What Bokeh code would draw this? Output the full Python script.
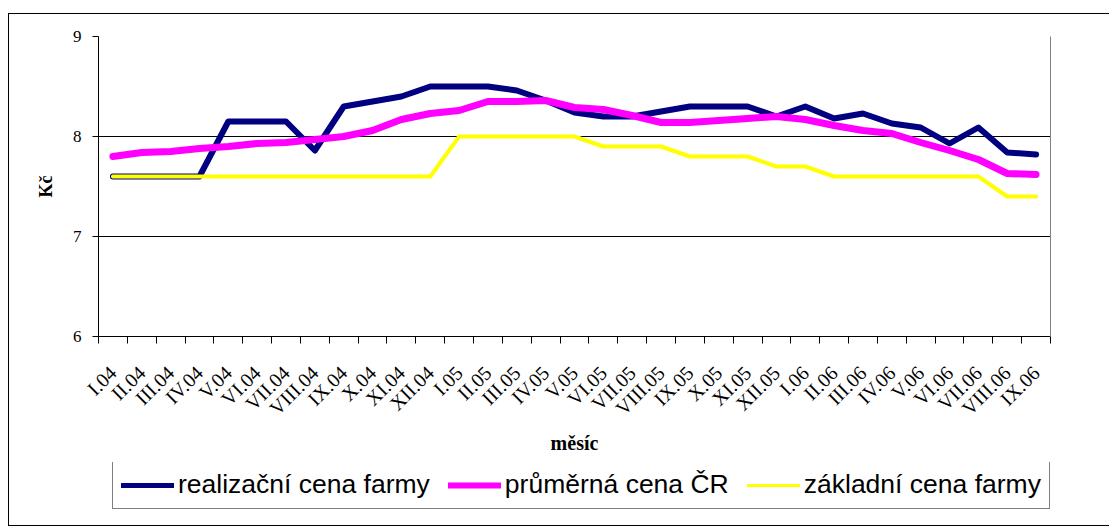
import math
from bokeh.plotting import figure
from bokeh.layouts import column
from bokeh.models import (FixedTicker, Range1d, Legend, LegendItem, LinearAxis,
                          ColumnDataSource)
from bokeh.embed import file_html
from bokeh.resources import INLINE

months = ["I.04", "II.04", "III.04", "IV.04", "V.04", "VI.04", "VII.04", "VIII.04",
          "IX.04", "X.04", "XI.04", "XII.04",
          "I.05", "II.05", "III.05", "IV.05", "V.05", "VI.05", "VII.05", "VIII.05",
          "IX.05", "X.05", "XI.05", "XII.05",
          "I.06", "II.06", "III.06", "IV.06", "V.06", "VI.06", "VII.06", "VIII.06", "IX.06"]

realizacni = [7.60, 7.60, 7.60, 7.60, 8.15, 8.15, 8.15, 7.86, 8.30, 8.35, 8.40, 8.50,
              8.50, 8.50, 8.46, 8.36, 8.24, 8.20, 8.20, 8.25, 8.30, 8.30, 8.30, 8.20,
              8.30, 8.18, 8.23, 8.13, 8.09, 7.93, 8.09, 7.84, 7.82]

prumerna = [7.80, 7.84, 7.85, 7.88, 7.90, 7.93, 7.94, 7.97, 8.00, 8.06, 8.17, 8.23,
            8.26, 8.35, 8.35, 8.36, 8.29, 8.27, 8.21, 8.14, 8.14, 8.16, 8.18, 8.20,
            8.17, 8.11, 8.06, 8.03, 7.94, 7.86, 7.77, 7.63, 7.62]

zakladni = [7.6, 7.6, 7.6, 7.6, 7.6, 7.6, 7.6, 7.6, 7.6, 7.6, 7.6, 7.6,
            8.0, 8.0, 8.0, 8.0, 8.0, 7.9, 7.9, 7.9, 7.8, 7.8, 7.8, 7.7,
            7.7, 7.6, 7.6, 7.6, 7.6, 7.6, 7.6, 7.4, 7.4]

series_names = ["realizační cena farmy", "průměrná cena ČR", "základní cena farmy"]
series_colors = ["#000080", "#FF00FF", "#FFFF00"]
y_ticks = [6, 7, 8, 9]

idx = list(range(len(months)))
src = ColumnDataSource(dict(x=idx, r=realizacni, p=prumerna, z=zakladni))

frame_styles = {
    "background-image": "linear-gradient(#000,#000),linear-gradient(#000,#000),linear-gradient(#000,#000)",
    "background-size": "1px 100%, 100% 1px, 100% 1px",
    "background-position": "8px 13px, 8px 13px, 8px 100%",
    "background-repeat": "no-repeat",
}

TOP_H = 462
p = figure(width=1109, height=TOP_H, output_backend="svg", toolbar_location=None,
           x_range=Range1d(-0.5, len(months) - 0.5), y_range=Range1d(6, 9),
           min_border_left=98, min_border_top=36, min_border_right=59,
           min_border_bottom=TOP_H - 336,
           border_fill_color=None, background_fill_color="white",
           outline_line_color=None)

serif = "Liberation Serif"

# x axis: labels at category centres, tick marks at category boundaries
xa = p.xaxis[0]
xa.ticker = FixedTicker(ticks=idx, minor_ticks=[i - 0.5 for i in range(len(months) + 1)])
xa.major_label_overrides = {i: m for i, m in enumerate(months)}
xa.major_label_orientation = math.pi / 4
xa.major_tick_out = 0
xa.major_tick_in = 0
xa.minor_tick_out = 7
xa.minor_tick_in = 0
xa.minor_tick_line_color = "black"
xa.axis_line_color = "black"
xa.major_label_text_font = serif
xa.major_label_text_font_size = "20px"
xa.major_label_text_color = "black"
xa.major_label_standoff = 26
xa.axis_label = "měsíc"
xa.axis_label_text_font = serif
xa.axis_label_text_font_style = "bold"
xa.axis_label_text_font_size = "20px"
xa.axis_label_text_color = "black"
xa.axis_label_standoff = 2

# y axis
ya = p.yaxis[0]
ya.ticker = FixedTicker(ticks=y_ticks, minor_ticks=[])
ya.major_tick_out = 6
ya.major_tick_in = 0
ya.major_tick_line_color = "black"
ya.axis_line_color = "black"
ya.major_label_text_font = serif
ya.major_label_text_font_size = "17px"
ya.major_label_text_color = "black"
ya.major_label_standoff = 11
ya.axis_label = "Kč"
ya.axis_label_text_font = serif
ya.axis_label_text_font_style = "bold"
ya.axis_label_text_font_size = "18px"
ya.axis_label_text_color = "black"
ya.axis_label_standoff = 14

# right border of plot area
ra = LinearAxis(ticker=FixedTicker(ticks=[]), axis_line_color="#808080",
                major_tick_line_color=None, minor_tick_line_color=None,
                major_label_text_font_size="0px")
p.add_layout(ra, "right")

p.xgrid.grid_line_color = None
p.ygrid.ticker = FixedTicker(ticks=y_ticks)
p.ygrid.grid_line_color = "black"
p.ygrid.grid_line_width = 1

widths = [6, 7, 4]
cols = ["r", "p", "z"]
for c, col, w in zip(cols, series_colors, widths):
    p.line("x", c, source=src, line_color=col, line_width=w,
           line_cap="round", line_join="round")

# legend strip (separate figure below the chart; its frame aligns with the chart's)
LEG_H = 526 - TOP_H
pl = figure(width=1109, height=LEG_H, output_backend="svg", toolbar_location=None,
            x_range=Range1d(0, 1), y_range=Range1d(0, 1),
            x_axis_type=None, y_axis_type=None,
            min_border_left=0, min_border_right=0, min_border_top=0, min_border_bottom=0,
            border_fill_color=None, background_fill_color=None, outline_line_color=None)
pl.grid.visible = False
leg_renderers = []
for c, col, w in zip(cols, series_colors, widths):
    # series values lie far outside this strip's range, so only the legend shows
    leg_renderers.append(pl.line("x", c, source=src, line_color=col, line_width=w - 1,
                                 line_cap="round"))

legend = Legend(items=[LegendItem(label=n, renderers=[r])
                       for n, r in zip(series_names, leg_renderers)],
                orientation="horizontal", location=(14, 17),
                label_text_font="Liberation Sans", label_text_font_size="26.5px",
                label_text_line_height=1.0,
                label_text_color="black", glyph_width=53, glyph_height=20,
                label_standoff=4, spacing=18, padding=8, margin=0,
                border_line_color="black", border_line_width=1,
                background_fill_color="white", background_fill_alpha=1)
pl.add_layout(legend, "center")

layout = column(p, pl, spacing=0, styles=frame_styles)
open("out.html", "w").write(file_html(layout, INLINE))
